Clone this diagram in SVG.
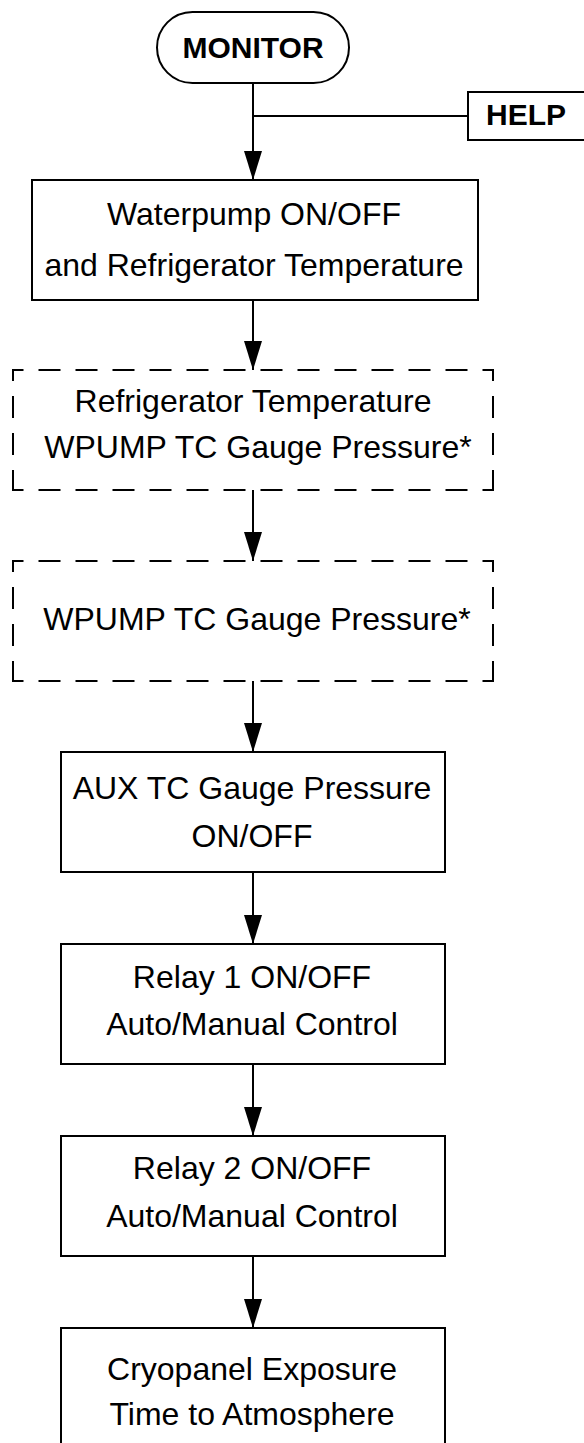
<svg xmlns="http://www.w3.org/2000/svg" width="584" height="1443" viewBox="0 0 584 1443">
<defs>
<style>
.box{fill:#fff;stroke:#000;stroke-width:2}
.dash{fill:none;stroke:#000;stroke-width:2;stroke-dasharray:22 15}
.t{font-family:"Liberation Sans",Arial,sans-serif;font-size:32px;text-anchor:middle;fill:#000}
.b{font-family:"Liberation Sans",Arial,sans-serif;font-size:30px;font-weight:bold;text-anchor:middle;fill:#000}
.c{fill:none;stroke:#000;stroke-width:2}
</style>
<marker id="ah" markerUnits="userSpaceOnUse" markerWidth="30" markerHeight="20" viewBox="0 0 30 20" refX="29" refY="10" orient="auto">
<path d="M0,1 L29,10 L0,19 Z" fill="#000"/>
</marker>
</defs>
<rect width="584" height="1443" fill="#fff"/>
<g id="connectors">
<line class="c" x1="253" y1="83" x2="253" y2="180" marker-end="url(#ah)"/>
<line class="c" x1="253" y1="116" x2="468" y2="116"/>
<line class="c" x1="253" y1="300" x2="253" y2="370" marker-end="url(#ah)"/>
<line class="c" x1="253" y1="490" x2="253" y2="561" marker-end="url(#ah)"/>
<line class="c" x1="253" y1="681" x2="253" y2="752" marker-end="url(#ah)"/>
<line class="c" x1="253" y1="872" x2="253" y2="944" marker-end="url(#ah)"/>
<line class="c" x1="253" y1="1064" x2="253" y2="1136" marker-end="url(#ah)"/>
<line class="c" x1="253" y1="1256" x2="253" y2="1328" marker-end="url(#ah)"/>
</g>
<g id="monitor">
<rect class="box" x="157" y="12" width="192" height="71" rx="35.5" ry="35.5"/>
<text class="b" x="253" y="58">MONITOR</text>
</g>
<g id="help">
<rect class="box" x="468" y="92" width="130" height="48"/>
<text class="b" x="526" y="125">HELP</text>
</g>
<g id="waterpump">
<rect class="box" x="32" y="180" width="446" height="120"/>
<text class="t" x="254" y="225">Waterpump ON/OFF</text>
<text class="t" x="254" y="276">and Refrigerator Temperature</text>
</g>
<g id="refrig">
<path class="dash" d="M13,370 H493" stroke-dashoffset="11.5"/>
<path class="dash" d="M13,490 H493" stroke-dashoffset="11.5"/>
<path class="dash" d="M13,369 V491" stroke-dashoffset="10"/>
<path class="dash" d="M493,369 V491" stroke-dashoffset="10"/>
<text class="t" x="253" y="412">Refrigerator Temperature</text>
<text class="t" x="258" y="458">WPUMP TC Gauge Pressure*</text>
</g>
<g id="wpump">
<path class="dash" d="M13,561 H493" stroke-dashoffset="11.5"/>
<path class="dash" d="M13,681 H493" stroke-dashoffset="11.5"/>
<path class="dash" d="M13,560 V682" stroke-dashoffset="10"/>
<path class="dash" d="M493,560 V682" stroke-dashoffset="10"/>
<text class="t" x="257" y="630">WPUMP TC Gauge Pressure*</text>
</g>
<g id="aux">
<rect class="box" x="61" y="752" width="384" height="120"/>
<text class="t" x="252" y="799">AUX TC Gauge Pressure</text>
<text class="t" x="252" y="847">ON/OFF</text>
</g>
<g id="relay1">
<rect class="box" x="61" y="944" width="384" height="120"/>
<text class="t" x="252" y="988">Relay 1 ON/OFF</text>
<text class="t" x="252" y="1035">Auto/Manual Control</text>
</g>
<g id="relay2">
<rect class="box" x="61" y="1136" width="384" height="120"/>
<text class="t" x="252" y="1179">Relay 2 ON/OFF</text>
<text class="t" x="252" y="1227">Auto/Manual Control</text>
</g>
<g id="cryo">
<rect class="box" x="61" y="1328" width="384" height="130"/>
<text class="t" x="252" y="1380">Cryopanel Exposure</text>
<text class="t" x="252" y="1425">Time to Atmosphere</text>
</g>
</svg>
